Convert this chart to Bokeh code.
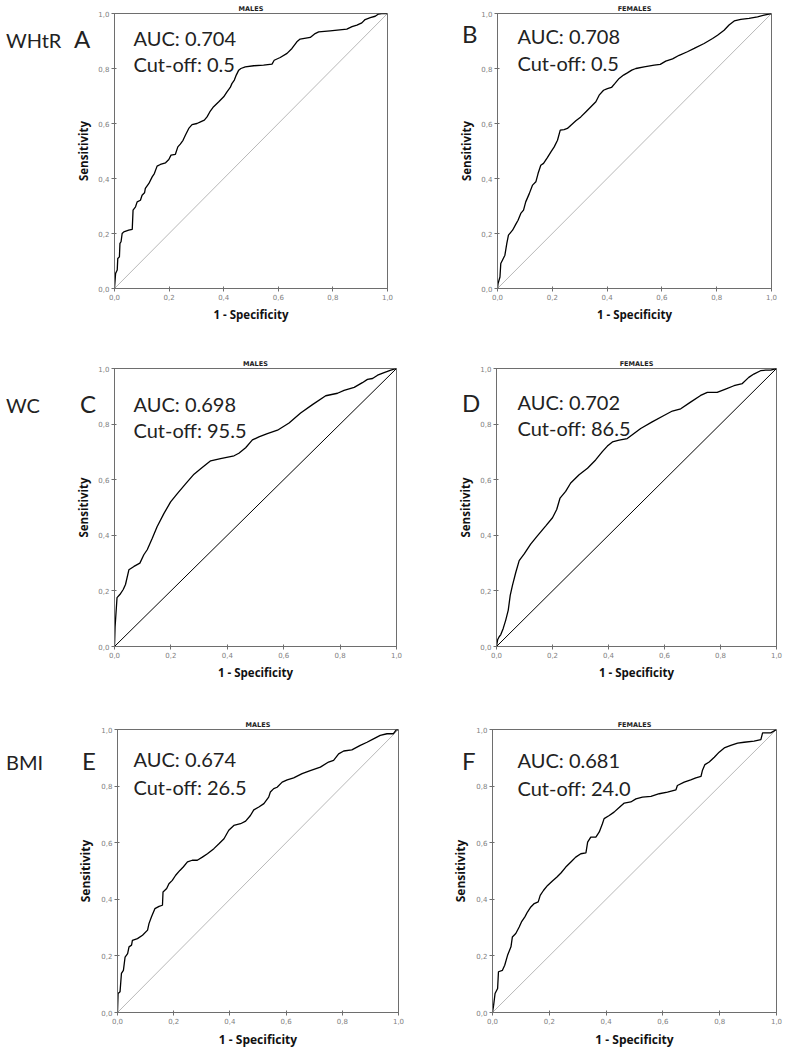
from bokeh.plotting import figure
from bokeh.layouts import column, row
from bokeh.models import Range1d, FixedTicker, Label, Div, GridBox
from bokeh.embed import file_html
from bokeh.resources import INLINE

# ---------------- data ----------------
tick_values = [0.0, 0.2, 0.4, 0.6, 0.8, 1.0]
tick_labels = ["0,0", "0,2", "0,4", "0,6", "0,8", "1,0"]

row_names = ["WHtR", "WC", "BMI"]
panel_letters = ["A", "B", "C", "D", "E", "F"]
panel_titles = ["MALES", "FEMALES", "MALES", "FEMALES", "MALES", "FEMALES"]
auc_values = ["0.704", "0.708", "0.698", "0.702", "0.674", "0.681"]
cutoff_values = ["0.5", "0.5", "95.5", "86.5", "26.5", "24.0"]

a_fpr = [0, 0.004, 0.01, 0.012, 0.018, 0.02, 0.024, 0.028, 0.034, 0.052, 0.065, 0.068, 0.077, 0.083,
         0.095, 0.101, 0.11, 0.113, 0.126, 0.138, 0.146, 0.156, 0.168, 0.187, 0.199, 0.207, 0.223,
         0.232, 0.241, 0.251, 0.26, 0.272, 0.284, 0.302, 0.315, 0.329, 0.339, 0.349, 0.363, 0.382,
         0.4, 0.412, 0.424, 0.43, 0.439, 0.446, 0.455, 0.463, 0.479, 0.51, 0.546, 0.577, 0.585,
         0.607, 0.632, 0.65, 0.668, 0.68, 0.717, 0.735, 0.748, 0.79, 0.851, 0.87, 0.888, 0.906,
         0.918, 0.937, 0.955, 0.967, 0.979, 1.0]
a_tpr = [0, 0.055, 0.067, 0.109, 0.115, 0.164, 0.17, 0.2, 0.206, 0.212, 0.215, 0.285, 0.297, 0.315,
         0.321, 0.339, 0.348, 0.364, 0.382, 0.406, 0.418, 0.445, 0.451, 0.457, 0.469, 0.485, 0.488,
         0.515, 0.525, 0.539, 0.558, 0.582, 0.596, 0.6, 0.606, 0.612, 0.624, 0.642, 0.661, 0.679,
         0.697, 0.715, 0.731, 0.745, 0.758, 0.776, 0.794, 0.8, 0.806, 0.81, 0.812, 0.816, 0.83,
         0.84, 0.855, 0.873, 0.897, 0.907, 0.913, 0.927, 0.933, 0.937, 0.943, 0.952, 0.958, 0.966,
         0.978, 0.985, 0.99, 0.998, 1.0, 1.0]

b_fpr = [0, 0.002, 0.009, 0.012, 0.018, 0.027, 0.034, 0.04, 0.055, 0.067, 0.075, 0.085, 0.095,
         0.103, 0.116, 0.128, 0.14, 0.148, 0.158, 0.168, 0.182, 0.195, 0.207, 0.219, 0.229, 0.243,
         0.255, 0.268, 0.286, 0.304, 0.322, 0.341, 0.359, 0.371, 0.387, 0.401, 0.416, 0.428, 0.444,
         0.46, 0.474, 0.49, 0.505, 0.535, 0.572, 0.594, 0.614, 0.639, 0.663, 0.693, 0.718, 0.754,
         0.785, 0.803, 0.827, 0.845, 0.864, 0.888, 0.918, 0.949, 0.973, 1.0]
b_tpr = [0, 0.018, 0.042, 0.091, 0.103, 0.121, 0.164, 0.194, 0.212, 0.234, 0.248, 0.273, 0.285,
         0.315, 0.345, 0.376, 0.388, 0.418, 0.448, 0.455, 0.476, 0.497, 0.515, 0.539, 0.576, 0.578,
         0.582, 0.594, 0.61, 0.624, 0.642, 0.661, 0.679, 0.703, 0.721, 0.727, 0.731, 0.745, 0.764,
         0.776, 0.784, 0.794, 0.8, 0.806, 0.812, 0.815, 0.827, 0.835, 0.848, 0.861, 0.873, 0.891,
         0.909, 0.921, 0.939, 0.958, 0.973, 0.979, 0.982, 0.988, 0.994, 1.0]

c_fpr = [0, 0.002, 0.009, 0.019, 0.031, 0.039, 0.051, 0.069, 0.09, 0.104, 0.116, 0.134, 0.151,
         0.175, 0.199, 0.222, 0.252, 0.282, 0.311, 0.341, 0.376, 0.424, 0.441, 0.465, 0.489, 0.512,
         0.542, 0.578, 0.619, 0.66, 0.702, 0.749, 0.791, 0.814, 0.85, 0.879, 0.897, 0.915, 0.933,
         0.956, 0.98, 1.0]
c_tpr = [0, 0.069, 0.176, 0.187, 0.205, 0.223, 0.276, 0.288, 0.3, 0.33, 0.348, 0.389, 0.431,
         0.478, 0.52, 0.549, 0.585, 0.62, 0.644, 0.668, 0.676, 0.686, 0.695, 0.715, 0.743, 0.754,
         0.766, 0.778, 0.804, 0.84, 0.87, 0.902, 0.911, 0.921, 0.932, 0.949, 0.961, 0.964, 0.976,
         0.985, 0.994, 1.0]

d_fpr = [0, 0.004, 0.01, 0.015, 0.024, 0.033, 0.042, 0.049, 0.057, 0.069, 0.081, 0.099, 0.122,
         0.146, 0.176, 0.2, 0.215, 0.227, 0.247, 0.265, 0.295, 0.325, 0.354, 0.378, 0.396, 0.414,
         0.438, 0.467, 0.491, 0.515, 0.556, 0.598, 0.628, 0.658, 0.693, 0.729, 0.753, 0.788, 0.818,
         0.848, 0.878, 0.901, 0.919, 0.943, 0.961, 0.979, 1.0]
d_tpr = [0, 0.024, 0.036, 0.042, 0.065, 0.095, 0.131, 0.184, 0.22, 0.267, 0.309, 0.333, 0.368,
         0.398, 0.434, 0.463, 0.493, 0.534, 0.558, 0.588, 0.618, 0.641, 0.671, 0.701, 0.721, 0.736,
         0.742, 0.748, 0.766, 0.784, 0.808, 0.831, 0.847, 0.855, 0.879, 0.903, 0.914, 0.914, 0.926,
         0.938, 0.946, 0.968, 0.98, 0.992, 0.994, 0.994, 1.0]

e_fpr = [0, 0.002, 0.009, 0.014, 0.021, 0.027, 0.036, 0.041, 0.05, 0.053, 0.071, 0.089, 0.107,
         0.112, 0.121, 0.133, 0.148, 0.16, 0.162, 0.175, 0.183, 0.195, 0.207, 0.222, 0.234, 0.249,
         0.266, 0.284, 0.302, 0.32, 0.343, 0.361, 0.379, 0.396, 0.414, 0.438, 0.456, 0.473, 0.485,
         0.503, 0.521, 0.538, 0.544, 0.556, 0.568, 0.586, 0.604, 0.627, 0.657, 0.686, 0.722, 0.751,
         0.769, 0.787, 0.805, 0.834, 0.864, 0.888, 0.911, 0.935, 0.959, 0.982, 0.992, 1.0]
e_tpr = [0, 0.067, 0.073, 0.138, 0.149, 0.196, 0.208, 0.232, 0.238, 0.255, 0.261, 0.273, 0.291,
         0.314, 0.338, 0.367, 0.375, 0.379, 0.426, 0.438, 0.455, 0.467, 0.485, 0.502, 0.514, 0.532,
         0.538, 0.538, 0.549, 0.561, 0.579, 0.596, 0.614, 0.644, 0.661, 0.667, 0.676, 0.696, 0.716,
         0.726, 0.738, 0.761, 0.779, 0.791, 0.796, 0.814, 0.822, 0.829, 0.844, 0.855, 0.867, 0.885,
         0.891, 0.914, 0.924, 0.928, 0.944, 0.955, 0.967, 0.979, 0.985, 0.985, 0.999, 1.0]

f_fpr = [0, 0.004, 0.009, 0.018, 0.021, 0.035, 0.043, 0.053, 0.065, 0.07, 0.082, 0.094, 0.102,
         0.114, 0.123, 0.135, 0.147, 0.161, 0.168, 0.18, 0.194, 0.211, 0.227, 0.241, 0.258, 0.276,
         0.293, 0.311, 0.329, 0.335, 0.346, 0.364, 0.376, 0.387, 0.393, 0.411, 0.428, 0.446, 0.464,
         0.487, 0.505, 0.528, 0.558, 0.587, 0.616, 0.646, 0.651, 0.675, 0.698, 0.716, 0.734, 0.739,
         0.748, 0.763, 0.781, 0.798, 0.816, 0.839, 0.863, 0.886, 0.921, 0.945, 0.951, 0.98, 1.0]
f_tpr = [0, 0.026, 0.067, 0.085, 0.144, 0.149, 0.167, 0.202, 0.232, 0.267, 0.279, 0.302, 0.32,
         0.338, 0.355, 0.373, 0.385, 0.391, 0.414, 0.432, 0.449, 0.465, 0.479, 0.493, 0.514, 0.532,
         0.549, 0.561, 0.564, 0.602, 0.62, 0.62, 0.638, 0.667, 0.685, 0.696, 0.708, 0.724, 0.74,
         0.744, 0.755, 0.761, 0.764, 0.773, 0.779, 0.787, 0.802, 0.814, 0.822, 0.829, 0.834, 0.855,
         0.876, 0.885, 0.902, 0.92, 0.935, 0.944, 0.952, 0.955, 0.959, 0.964, 0.988, 0.988, 1.0]

curves_fpr = [a_fpr, b_fpr, c_fpr, d_fpr, e_fpr, f_fpr]
curves_tpr = [a_tpr, b_tpr, c_tpr, d_tpr, e_tpr, f_tpr]
diag = [0.0, 1.0]

# ---------------- layout / style ----------------
# (width, height, left, right, top, bottom) for each figure
geom = [
    (440, 330, 114, 53, 13, 42),
    (345, 330, 57, 14, 13, 42),
    (440, 360, 114, 44, 35, 44),
    (345, 360, 56, 9, 38, 42),
    (440, 360, 117, 42, 39, 38),
    (345, 360, 52, 9, 39, 38),
]
# AUC text offsets relative to frame: (dx, auc_dy, cut_dy) measured from frame top-left
text_pos = [
    (19, 24, 50),
    (20, 22, 49),
    (19, 38, 64),
    (21, 35, 61),
    (16, 29, 57),
    (25, 30, 58),
]
# page positions (left px, baseline px) of the row names and panel letters
rowname_pos = [(1, 43), (1, 408), (1, 765)]
letter_pos = [(69, 43), (457, 38), (75, 408), (457, 407), (77, 765), (457, 765)]

diag_colors = ["#b8b8b8", "#b8b8b8", "#000000", "#000000", "#b8b8b8", "#b8b8b8"]
axis_label_sizes = ["11.5px", "11.5px", "11.5px", "11.5px", "12px", "12px"]

FRAME = "#6e6e6e"
TICKLAB = "#808080"
CAL = "Lato"
SPSS = "Open Sans"
TXT = "#222222"

figs = []
for i in range(6):
    W, H, L, R, T, B = geom[i]
    fw = W - L - R
    fh = H - T - B
    p = figure(width=W, height=H, output_backend="svg", toolbar_location=None,
               x_range=Range1d(0, 1), y_range=Range1d(0, 1),
               min_border_left=L, min_border_right=R, min_border_top=T, min_border_bottom=B)
    p.grid.visible = False
    p.outline_line_color = FRAME
    p.outline_line_width = 1
    p.background_fill_color = "white"
    p.border_fill_color = None

    p.title.text = panel_titles[i]
    p.title.align = "center"
    p.title.text_font = "DejaVu Sans"
    p.title.text_font_style = "bold"
    p.title.text_font_size = "6.5px"
    p.title.text_color = TXT
    p.title.standoff = 2

    overrides = dict(zip(tick_values, tick_labels))
    for ax in (p.xaxis[0], p.yaxis[0]):
        ax.ticker = FixedTicker(ticks=tick_values)
        ax.major_label_overrides = overrides
        ax.minor_tick_line_color = None
        ax.major_tick_in = 2
        ax.major_tick_out = 3
        ax.axis_line_color = FRAME
        ax.major_tick_line_color = FRAME
        ax.major_label_text_color = TICKLAB
        ax.major_label_text_font = "DejaVu Sans"
        ax.major_label_text_font_size = "7px"
        ax.major_label_standoff = 2
        ax.axis_label_text_font = SPSS
        ax.axis_label_text_font_style = "bold"
        ax.axis_label_text_font_size = axis_label_sizes[i]
        ax.axis_label_text_color = "#111111"
        ax.axis_label_standoff = 4
    p.xaxis.axis_label = "1 - Specificity"
    p.yaxis.axis_label = "Sensitivity"
    p.yaxis.major_label_orientation = "horizontal"

    p.line(diag, diag, line_color=diag_colors[i], line_width=1)
    p.line(curves_fpr[i], curves_tpr[i], line_color="black", line_width=1.3)

    dx, ady, cdy = text_pos[i]
    p.add_layout(Label(x=dx, y=fh - ady, x_units="screen", y_units="screen",
                       text="AUC: " + auc_values[i], text_font=CAL, text_font_size="20px",
                       text_baseline="alphabetic", text_color=TXT))
    p.add_layout(Label(x=dx, y=fh - cdy, x_units="screen", y_units="screen",
                       text="Cut-off: " + cutoff_values[i], text_font=CAL, text_font_size="20px",
                       text_baseline="alphabetic", text_color=TXT))
    figs.append(p)

plots = column(row(figs[0], figs[1]), row(figs[2], figs[3]), row(figs[4], figs[5]))

# overlay with the row names and panel letters (outside the plot frames)
def span(txt, x, baseline, size):
    top = baseline - round(size * 0.89)
    return (f'<div style="position:absolute;left:{x}px;top:{top}px;font-family:Lato;'
            f'font-size:{size}px;line-height:{size}px;color:{TXT};white-space:nowrap;">{txt}</div>')

parts = []
for k, name in enumerate(row_names):
    parts.append(span(name, rowname_pos[k][0], rowname_pos[k][1], 20))
for k, letter in enumerate(panel_letters):
    parts.append(span(letter, letter_pos[k][0], letter_pos[k][1], 24))
overlay_html = ('<div style="position:relative;width:785px;height:1050px;pointer-events:none;">'
                + "".join(parts) + "</div>")
overlay = Div(text=overlay_html, width=785, height=1050)

page = GridBox(children=[(plots, 0, 0), (overlay, 0, 0)])

open("out.html", "w").write(file_html(page, INLINE))
